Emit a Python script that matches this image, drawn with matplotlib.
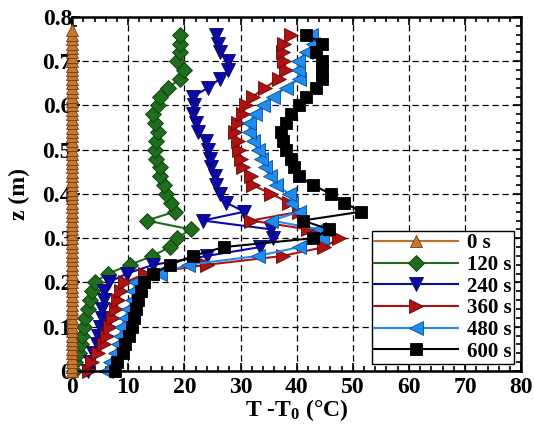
import matplotlib
matplotlib.use('Agg')
import matplotlib.pyplot as plt
from matplotlib.ticker import MultipleLocator

plt.rcParams['font.family'] = 'Liberation Serif'
plt.rcParams['font.weight'] = 'bold'
plt.rcParams['axes.labelweight'] = 'bold'
plt.rcParams['mathtext.default'] = 'regular'

# heights (m) for the 0 s profile
z0 = [0.00, 0.01, 0.02, 0.03, 0.04, 0.05, 0.06, 0.07, 0.08, 0.09,
      0.10, 0.11, 0.12, 0.13, 0.14, 0.15, 0.16, 0.17, 0.18, 0.19,
      0.20, 0.21, 0.22, 0.23, 0.24, 0.25, 0.26, 0.27, 0.28, 0.29,
      0.30, 0.31, 0.32, 0.33, 0.34, 0.35, 0.36, 0.37, 0.38, 0.39,
      0.40, 0.41, 0.42, 0.43, 0.44, 0.45, 0.46, 0.47, 0.48, 0.49,
      0.50, 0.51, 0.52, 0.53, 0.54, 0.55, 0.56, 0.57, 0.58, 0.59,
      0.60, 0.61, 0.62, 0.63, 0.64, 0.65, 0.66, 0.67, 0.68, 0.69,
      0.70, 0.71, 0.72, 0.73, 0.74, 0.75, 0.76, 0.77]
t_0s = [0, 0, 0, 0, 0, 0, 0, 0, 0, 0,
        0, 0, 0, 0, 0, 0, 0, 0, 0, 0,
        0, 0, 0, 0, 0, 0, 0, 0, 0, 0,
        0, 0, 0, 0, 0, 0, 0, 0, 0, 0,
        0, 0, 0, 0, 0, 0, 0, 0, 0, 0,
        0, 0, 0, 0, 0, 0, 0, 0, 0, 0,
        0, 0, 0, 0, 0, 0, 0, 0, 0, 0,
        0, 0, 0, 0, 0, 0, 0, 0]

# heights (m) for the other profiles
z = [0.00, 0.02, 0.04, 0.06, 0.08, 0.10, 0.12, 0.14, 0.16, 0.18,
     0.20, 0.22, 0.24, 0.26, 0.28, 0.30, 0.32, 0.34, 0.36, 0.38,
     0.40, 0.42, 0.44, 0.46, 0.48, 0.50, 0.52, 0.54, 0.56, 0.58,
     0.60, 0.62, 0.64, 0.66, 0.68, 0.70, 0.72, 0.74, 0.76]

t_120s = [0.3, 0.6, 1.2, 1.5, 1.8, 2.2, 2.3, 2.9, 3.2, 3.5,
          4.0, 6.4, 10.3, 14.3, 17.4, 18.7, 21.1, 13.3, 18.3, 17.7,
          16.8, 16.4, 15.6, 15.6, 15.0, 14.7, 15.0, 15.3, 14.7, 14.4,
          15.3, 15.6, 17.1, 19.2, 19.9, 18.6, 19.2, 19.2, 19.3]
t_240s = [2.9, 3.2, 3.8, 4.4, 4.7, 4.9, 5.3, 5.3, 5.6, 5.6,
          6.5, 9.7, 14.5, 24.0, 33.5, 35.8, 35.5, 23.3, 30.7, 27.5,
          26.3, 25.7, 25.4, 24.8, 24.5, 24.2, 23.9, 22.4, 22.1, 21.5,
          21.8, 21.5, 24.2, 26.3, 27.8, 27.8, 26.3, 26.0, 25.7]
t_360s = [3.0, 3.5, 4.7, 5.6, 6.2, 6.7, 7.3, 7.9, 8.2, 8.8,
          9.4, 13.0, 24.0, 37.5, 44.9, 47.6, 42.0, 31.9, 40.5, 38.7,
          35.5, 32.2, 31.9, 30.4, 30.1, 29.8, 29.5, 29.0, 29.5, 30.4,
          31.0, 32.2, 34.3, 36.9, 38.1, 37.8, 37.5, 37.8, 39.0]
t_480s = [6.0, 6.7, 7.6, 8.2, 8.5, 8.8, 9.4, 10.0, 10.6, 10.9,
          11.2, 15.6, 20.7, 33.1, 40.5, 44.5, 44.0, 35.5, 40.5, 39.0,
          38.7, 36.4, 35.2, 34.3, 33.7, 33.1, 32.2, 31.6, 31.6, 32.5,
          34.0, 35.8, 38.1, 40.5, 40.2, 40.2, 41.7, 42.9, 42.5]
t_600s = [7.6, 8.0, 9.0, 9.5, 10.1, 10.6, 11.0, 11.4, 11.8, 12.2,
          12.8, 14.4, 17.4, 21.5, 27.0, 42.9, 45.8, 41.1, 51.5, 48.5,
          46.1, 42.9, 40.5, 39.6, 39.0, 38.1, 37.5, 37.2, 38.1, 39.0,
          40.5, 41.7, 43.5, 44.6, 44.6, 44.5, 43.5, 44.6, 41.7]

labels = ['0 s', '120 s', '240 s', '360 s', '480 s', '600 s']

fig = plt.figure(figsize=(5.34, 4.24), dpi=100)
ax = fig.add_axes([0.135, 0.125, 0.841, 0.835])

ax.plot(t_0s, z0, color='#C0702A', marker='^', ms=8, mfc='#C8782E', mec='#6B3A10',
        mew=0.6, lw=1.5, label=labels[0], clip_on=False, zorder=3)
ax.plot(t_120s, z, color='#1E6E1E', marker='D', ms=8, mfc='#1E6E1E', mec='#0C3A0C',
        mew=0.6, lw=1.5, label=labels[1], clip_on=False)
ax.plot(t_240s, z, color='#0A0AA8', marker='v', ms=10, mfc='#0A0AA8', mec='#050560',
        mew=0.6, lw=1.5, label=labels[2], clip_on=False)
ax.plot(t_360s, z, color='#B01212', marker='>', ms=10, mfc='#B01212', mec='#600808',
        mew=0.6, lw=1.5, label=labels[3], clip_on=False)
ax.plot(t_480s, z, color='#1E8CF0', marker='<', ms=10, mfc='#1E8CF0', mec='#0A4C90',
        mew=0.6, lw=1.5, label=labels[4], clip_on=False)
ax.plot(t_600s, z, color='black', marker='s', ms=8, mfc='black', mec='black',
        mew=0.6, lw=1.5, label=labels[5], clip_on=False)

ax.set_xlim(0, 80)
ax.set_ylim(0, 0.8)
ax.xaxis.set_major_locator(MultipleLocator(10))
ax.xaxis.set_minor_locator(MultipleLocator(2))
ax.yaxis.set_major_locator(MultipleLocator(0.1))
ax.yaxis.set_minor_locator(MultipleLocator(0.02))
ax.xaxis.set_major_formatter(plt.FuncFormatter(lambda v, p: f'{v:.0f}'))
ax.yaxis.set_major_formatter(plt.FuncFormatter(lambda v, p: '0' if v == 0 else f'{v:.1f}'))

ax.tick_params(which='both', direction='in', top=True, right=True, labelsize=17, width=1.2)
ax.tick_params(which='major', length=6)
ax.tick_params(which='minor', length=3.5)
ax.tick_params(axis='x', pad=4)
ax.tick_params(axis='y', pad=0)
for lab in ax.get_xticklabels() + ax.get_yticklabels():
    lab.set_fontweight('bold')
for s in ax.spines.values():
    s.set_linewidth(1.8)

ax.grid(True, which='major', color='black', linestyle=(0, (5, 3)), linewidth=0.9)
ax.set_axisbelow(True)

ax.set_xlabel(r'T -T$_\mathregular{0}$ ($\mathregular{\degree}$C)', fontsize=17,
              fontweight='bold', labelpad=0)
ax.set_ylabel('z (m)', fontsize=17, fontweight='bold', labelpad=9)

leg = ax.legend(loc='lower right', prop={'size': 15, 'weight': 'bold'}, handlelength=4.0,
                labelspacing=0.08, borderpad=0.1, handletextpad=0.45, borderaxespad=0.35,
                fancybox=False, edgecolor='black', framealpha=1)
leg.get_frame().set_linewidth(1.0)

fig.savefig('out.png', dpi=100)
